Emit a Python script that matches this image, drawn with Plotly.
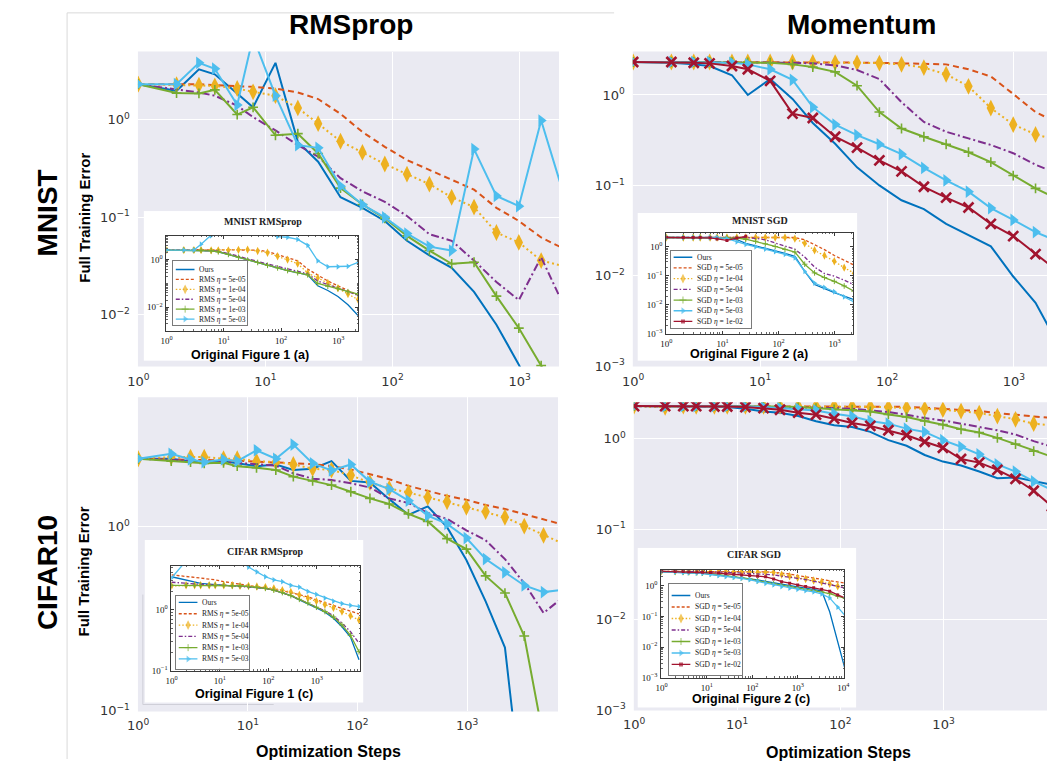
import plotly.graph_objects as go

FIG_W, FIG_H = 1053, 766

# optimisation steps (shared x grid)
steps = [1, 2, 3, 4, 6, 8, 12, 18, 26, 39, 58, 87, 130, 195, 292, 438, 657, 986,
         1478, 2217, 3326, 4988, 7482, 11223]

series_keys = ["ours", "5e5", "1e4", "5e4", "1e3", "5e3", "1e2"]
rms_labels = ["Ours", "RMS <i>η</i> = 5e-05", "RMS <i>η</i> = 1e-04", "RMS <i>η</i> = 5e-04",
              "RMS <i>η</i> = 1e-03", "RMS <i>η</i> = 5e-03"]
sgd_labels = ["Ours", "SGD <i>η</i> = 5e-05", "SGD <i>η</i> = 1e-04", "SGD <i>η</i> = 5e-04",
              "SGD <i>η</i> = 1e-03", "SGD <i>η</i> = 5e-03", "SGD <i>η</i> = 1e-02"]

# ---------- values, as log10(full training error) ----------
# MNIST RMSprop (main)
mnist_rms_ours = [0.365, 0.297, 0.517, 0.466, 0.27, 0.128, 0.584, -0.226, -0.429, -0.794, -0.902, -1.037, -1.24, -1.39, -1.517, -1.764, -2.10, -2.51, -3.0, -3.4]
mnist_rms_5e5 = [0.365, 0.365, 0.365, 0.355, 0.348, 0.338, 0.321, 0.28, 0.213, 0.061, -0.125, -0.277, -0.412, -0.514, -0.615, -0.716, -0.902, -1.037, -1.206, -1.32]
mnist_rms_1e4 = [0.365, 0.36, 0.355, 0.348, 0.321, 0.287, 0.247, 0.122, -0.04, -0.22, -0.334, -0.453, -0.557, -0.659, -0.794, -0.895, -1.155, -1.257, -1.443, -1.50]
mnist_rms_5e4 = [0.365, 0.314, 0.28, 0.247, 0.145, 0.027, -0.108, -0.26, -0.378, -0.598, -0.733, -0.841, -0.986, -1.172, -1.24, -1.443, -1.662, -1.848, -1.409, -1.90]
mnist_rms_1e3 = [0.365, 0.274, 0.270, 0.307, 0.054, 0.128, -0.159, -0.142, -0.345, -0.70, -0.868, -1.01, -1.19, -1.34, -1.476, -1.46, -1.807, -2.135, -2.52, -2.9]
mnist_rms_5e3 = [0.365, 0.365, 0.584, 0.524, 0.152, 0.85, 0.247, -0.26, -0.287, -0.68, -0.87, -1.00, -1.166, -1.30, -1.34, -0.30, -0.78, -0.885, -0.007, -0.76]

# MNIST Momentum (main)
mnist_sgd_ours = [0.364, 0.357, 0.338, 0.32, 0.218, 0.0, 0.175, -0.044, -0.31, -0.54, -0.80, -1.0, -1.164, -1.262, -1.425, -1.553, -1.673, -2.007, -2.298, -2.75]
mnist_sgd_5e5 = [0.364, 0.364, 0.364, 0.364, 0.364, 0.364, 0.364, 0.364, 0.362, 0.36, 0.358, 0.355, 0.352, 0.349, 0.338, 0.284, 0.204, 0.011, -0.189, -0.31]
mnist_sgd_1e4 = [0.364, 0.364, 0.364, 0.364, 0.364, 0.364, 0.364, 0.362, 0.36, 0.358, 0.355, 0.352, 0.338, 0.302, 0.229, 0.095, -0.145, -0.327, -0.436, -0.5]
mnist_sgd_5e4 = [0.364, 0.364, 0.364, 0.364, 0.362, 0.36, 0.358, 0.355, 0.35, 0.327, 0.276, 0.175, -0.08, -0.298, -0.407, -0.48, -0.553, -0.644, -0.771, -0.87]
mnist_sgd_1e3 = [0.364, 0.364, 0.364, 0.364, 0.362, 0.36, 0.356, 0.338, 0.309, 0.255, 0.102, -0.189, -0.371, -0.462, -0.545, -0.633, -0.742, -0.891, -1.033, -1.15]
mnist_sgd_5e3 = [0.364, 0.364, 0.364, 0.364, 0.356, 0.338, 0.284, 0.167, -0.135, -0.327, -0.444, -0.545, -0.655, -0.807, -0.945, -1.069, -1.251, -1.382, -1.516, -1.62]
mnist_sgd_1e2 = [0.364, 0.364, 0.356, 0.349, 0.32, 0.284, 0.156, -0.207, -0.255, -0.462, -0.582, -0.724, -0.844, -1.015, -1.135, -1.244, -1.425, -1.56, -1.76, -1.95]

# CIFAR10 RMSprop (main)
cifar_rms_ours = [0.367, 0.367, 0.354, 0.349, 0.354, 0.342, 0.327, 0.336, 0.306, 0.313, 0.354, 0.247, 0.238, 0.148, 0.063, 0.109, -0.004, -0.182, -0.406, -0.657, -1.7, -2.5, -3.0]
cifar_rms_5e5 = [0.367, 0.365, 0.363, 0.36, 0.358, 0.356, 0.352, 0.349, 0.345, 0.338, 0.327, 0.309, 0.283, 0.256, 0.22, 0.193, 0.166, 0.145, 0.116, 0.095, 0.068, 0.038, 0.01]
cifar_rms_1e4 = [0.367, 0.376, 0.376, 0.376, 0.367, 0.367, 0.354, 0.349, 0.336, 0.313, 0.306, 0.277, 0.238, 0.206, 0.184, 0.157, 0.134, 0.104, 0.08, 0.05, 0.002, -0.048, -0.093]
cifar_rms_5e4 = [0.367, 0.362, 0.358, 0.354, 0.35, 0.345, 0.34, 0.33, 0.288, 0.259, 0.252, 0.234, 0.211, 0.152, 0.127, 0.073, 0.041, -0.021, -0.075, -0.177, -0.308, -0.469, -0.385]
cifar_rms_1e3 = [0.367, 0.354, 0.349, 0.342, 0.345, 0.327, 0.318, 0.306, 0.27, 0.247, 0.224, 0.188, 0.152, 0.122, 0.068, 0.027, -0.066, -0.123, -0.268, -0.361, -0.594, -1.15, -1.7]
cifar_rms_5e3 = [0.367, 0.394, 0.363, 0.349, 0.363, 0.354, 0.413, 0.367, 0.444, 0.342, 0.304, 0.336, 0.242, 0.202, 0.14, 0.059, 0.014, -0.063, -0.177, -0.249, -0.320, -0.356, -0.343]

# CIFAR10 Momentum (main)
cifar_sgd_ours = [0.358, 0.358, 0.358, 0.358, 0.354, 0.347, 0.328, 0.299, 0.285, 0.248, 0.19, 0.146, 0.128, 0.073, -0.018, -0.08, -0.182, -0.255, -0.299, -0.365, -0.438, -0.43, -0.474, -0.51]
cifar_sgd_5e5 = [0.358, 0.358, 0.358, 0.358, 0.358, 0.358, 0.358, 0.358, 0.358, 0.358, 0.358, 0.356, 0.356, 0.354, 0.352, 0.35, 0.34, 0.328, 0.318, 0.303, 0.281, 0.263, 0.237, 0.226]
cifar_sgd_1e4 = [0.358, 0.345, 0.358, 0.355, 0.355, 0.355, 0.355, 0.355, 0.355, 0.355, 0.355, 0.355, 0.352, 0.35, 0.345, 0.34, 0.328, 0.318, 0.303, 0.281, 0.248, 0.212, 0.164, 0.146]
cifar_sgd_5e4 = [0.358, 0.358, 0.358, 0.358, 0.356, 0.354, 0.352, 0.35, 0.348, 0.346, 0.345, 0.336, 0.328, 0.31, 0.292, 0.263, 0.226, 0.2, 0.164, 0.128, 0.091, 0.044, -0.029, -0.09]
cifar_sgd_1e3 = [0.358, 0.358, 0.358, 0.358, 0.358, 0.358, 0.358, 0.358, 0.354, 0.347, 0.336, 0.321, 0.318, 0.299, 0.266, 0.237, 0.193, 0.153, 0.102, 0.066, 0.007, -0.062, -0.139, -0.2]
cifar_sgd_5e3 = [0.358, 0.358, 0.358, 0.358, 0.358, 0.356, 0.354, 0.347, 0.336, 0.328, 0.31, 0.274, 0.245, 0.193, 0.164, 0.109, 0.073, -0.018, -0.091, -0.175, -0.285, -0.365, -0.474, -0.566]
cifar_sgd_1e2 = [0.358, 0.358, 0.358, 0.358, 0.354, 0.354, 0.347, 0.336, 0.318, 0.285, 0.263, 0.219, 0.172, 0.139, 0.091, 0.036, -0.036, -0.102, -0.226, -0.266, -0.347, -0.445, -0.577, -0.748]

# inset: original Figure 1 (a)  MNIST RMSprop
in_mnist_rms_ours = [0.40, 0.40, 0.40, 0.40, 0.37, 0.33, 0.22, 0.10, -0.02, -0.12, -0.24, -0.35, -0.46, -0.55, -0.64, -1.10, -1.30, -1.55, -1.90, -2.35]
in_mnist_rms_5e5 = [0.42, 0.42, 0.42, 0.42, 0.42, 0.42, 0.42, 0.42, 0.42, 0.40, 0.34, 0.22, 0.10, -0.05, -0.40, -0.65, -0.90, -1.10, -1.30, -1.50]
in_mnist_rms_1e4 = [0.40, 0.40, 0.40, 0.40, 0.39, 0.39, 0.39, 0.41, 0.42, 0.36, 0.29, 0.14, 0.0, -0.17, -0.56, -0.77, -0.98, -1.20, -1.45, -1.68]
in_mnist_rms_5e4 = [0.40, 0.40, 0.40, 0.40, 0.38, 0.35, 0.26, 0.15, 0.03, -0.08, -0.19, -0.30, -0.41, -0.50, -0.60, -0.90, -1.05, -1.20, -1.35, -1.50]
in_mnist_rms_1e3 = [0.40, 0.40, 0.40, 0.40, 0.37, 0.33, 0.22, 0.10, -0.02, -0.12, -0.24, -0.35, -0.46, -0.55, -0.64, -1.00, -1.12, -1.22, -1.35, -1.45]
in_mnist_rms_5e3 = [0.40, 0.40, 0.40, 0.65, 1.0, 1.3, 1.3, 1.3, 1.3, 1.3, 1.1, 0.97, 0.94, 0.85, 0.60, -0.05, -0.30, -0.30, -0.28, -0.12]

# inset: original Figure 2 (a)  MNIST SGD
in_mnist_sgd_ours = [0.32, 0.32, 0.32, 0.32, 0.32, 0.32, 0.31, 0.25, 0.12, 0.03, -0.05, -0.14, -0.23, -0.33, -0.85, -1.30, -1.45, -1.58, -1.70, -1.82]
in_mnist_sgd_5e5 = [0.32, 0.32, 0.32, 0.32, 0.32, 0.32, 0.32, 0.32, 0.32, 0.32, 0.32, 0.32, 0.32, 0.32, 0.24, 0.08, -0.10, -0.30, -0.47, -0.63]
in_mnist_sgd_1e4 = [0.32, 0.32, 0.32, 0.32, 0.32, 0.32, 0.32, 0.32, 0.32, 0.32, 0.32, 0.32, 0.32, 0.28, 0.12, -0.12, -0.30, -0.50, -0.72, -0.91]
in_mnist_sgd_5e4 = [0.32, 0.32, 0.32, 0.32, 0.32, 0.32, 0.32, 0.32, 0.32, 0.29, 0.24, 0.13, 0.03, -0.08, -0.35, -0.70, -0.92, -1.01, -1.15, -1.31]
in_mnist_sgd_1e3 = [0.32, 0.32, 0.32, 0.32, 0.32, 0.32, 0.32, 0.30, 0.26, 0.19, 0.10, 0.01, -0.09, -0.18, -0.60, -0.90, -1.06, -1.19, -1.35, -1.53]
in_mnist_sgd_5e3 = [0.32, 0.32, 0.32, 0.32, 0.32, 0.32, 0.28, 0.17, 0.08, 0.0, -0.08, -0.17, -0.26, -0.38, -0.85, -1.25, -1.40, -1.55, -1.73, -1.90]
in_mnist_sgd_1e2 = [0.32, 0.32, 0.32, 0.32, 0.31, 0.27, 0.22, 0.30, 0.36]

# inset: original Figure 1 (c)  CIFAR RMSprop
in_cifar_rms_ours = [0.54, 0.48, 0.45, 0.43, 0.42, 0.41, 0.40, 0.39, 0.39, 0.38, 0.37, 0.35, 0.32, 0.28, 0.23, 0.16, 0.10, 0.03, -0.04, -0.14, -0.28, -0.45, -0.82]
in_cifar_rms_5e5 = [0.57, 0.55, 0.53, 0.52, 0.50, 0.49, 0.46, 0.44, 0.42, 0.40, 0.38, 0.36, 0.33, 0.31, 0.28, 0.25, 0.21, 0.16, 0.12, 0.07, 0.02, -0.03, -0.07]
in_cifar_rms_1e4 = [0.39, 0.40, 0.40, 0.40, 0.40, 0.40, 0.40, 0.40, 0.39, 0.39, 0.38, 0.37, 0.35, 0.32, 0.29, 0.24, 0.19, 0.14, 0.08, 0.03, -0.03, -0.10, -0.17]
in_cifar_rms_5e4 = [0.45, 0.43, 0.42, 0.41, 0.41, 0.40, 0.40, 0.39, 0.39, 0.38, 0.37, 0.35, 0.32, 0.28, 0.23, 0.17, 0.11, 0.05, -0.02, -0.10, -0.22, -0.36, -0.55]
in_cifar_rms_1e3 = [0.40, 0.40, 0.40, 0.40, 0.40, 0.40, 0.40, 0.39, 0.39, 0.38, 0.37, 0.35, 0.32, 0.28, 0.23, 0.17, 0.11, 0.04, -0.03, -0.12, -0.25, -0.42, -0.69]
in_cifar_rms_5e3 = [0.52, 0.80, 0.85, 0.85, 0.85, 0.85, 0.85, 0.85, 0.80, 0.70, 0.62, 0.54, 0.49, 0.46, 0.40, 0.37, 0.30, 0.25, 0.19, 0.14, 0.10, 0.07, 0.05]

# inset: original Figure 2 (c)  CIFAR SGD
in_cifar_sgd_ours = [0.45, 0.44, 0.43, 0.42, 0.41, 0.40, 0.37, 0.34, 0.31, 0.28, 0.26, 0.24, 0.19, 0.14, 0.09, 0.04, 0.0, -0.04, -0.08, -0.12, -0.17, -0.85, -1.80, -2.80]
in_cifar_sgd_5e5 = [0.47, 0.47, 0.47, 0.47, 0.47, 0.47, 0.47, 0.47, 0.47, 0.47, 0.47, 0.46, 0.46, 0.45, 0.44, 0.42, 0.38, 0.33, 0.29, 0.25, 0.20, 0.15, 0.11, 0.08]
in_cifar_sgd_1e4 = [0.47, 0.47, 0.47, 0.47, 0.47, 0.47, 0.46, 0.46, 0.46, 0.45, 0.45, 0.45, 0.44, 0.44, 0.43, 0.36, 0.31, 0.26, 0.22, 0.17, 0.12, 0.06, -0.02, -0.08]
in_cifar_sgd_5e4 = [0.47, 0.47, 0.47, 0.46, 0.46, 0.46, 0.45, 0.45, 0.44, 0.43, 0.42, 0.41, 0.39, 0.37, 0.35, 0.32, 0.28, 0.24, 0.20, 0.15, 0.10, 0.05, -0.02, -0.08]
in_cifar_sgd_1e3 = [0.46, 0.45, 0.44, 0.43, 0.42, 0.41, 0.39, 0.36, 0.33, 0.29, 0.26, 0.22, 0.16, 0.11, 0.06, 0.01, -0.04, -0.08, -0.12, -0.16, -0.20, -0.26, -0.34, -0.42]
in_cifar_sgd_5e3 = [0.45, 0.44, 0.43, 0.42, 0.41, 0.40, 0.37, 0.33, 0.30, 0.27, 0.24, 0.20, 0.14, 0.08, 0.03, -0.03, -0.08, -0.12, -0.16, -0.20, -0.27, -0.40, -0.70, -1.0]
in_cifar_sgd_1e2 = [0.47, 0.46, 0.46, 0.45, 0.45, 0.44, 0.43, 0.41, 0.39, 0.37, 0.35, 0.33, 0.31, 0.29, 0.22, 0.13, 0.08, 0.02, -0.03, -0.07, -0.12, -0.18, -0.30, -0.41]

# ---------- styles ----------
COLORS = {"ours": "#0072BD", "5e5": "#D95319", "1e4": "#EDB120", "5e4": "#7E2F8E",
          "1e3": "#77AC30", "5e3": "#4DBEEE", "1e2": "#A2142F"}
MAIN_DASH = {"ours": "solid", "5e5": "6px,4px", "1e4": "2px,3px", "5e4": "8px,3px,2px,3px",
             "1e3": "solid", "5e3": "solid", "1e2": "solid"}
MAIN_MARK = {"1e4": ("diamond-tall", 12, 0), "1e3": ("cross-thin", 7, 1.6),
             "5e3": ("triangle-right", 11, 0), "1e2": ("x-thin", 10, 2.6)}
IN_DASH = {"ours": "solid", "5e5": "3px,2px", "1e4": "1.5px,2px", "5e4": "4px,2px,1.5px,2px",
           "1e3": "solid", "5e3": "solid", "1e2": "solid"}
IN_MARK = {"1e4": ("diamond-tall", 6, 0), "1e3": ("cross-thin", 4, 1),
           "5e3": ("triangle-right", 5, 0), "1e2": ("square", 3, 0)}


def xd(a, b):
    return [a / FIG_W, b / FIG_W]


def yd(top, bot):
    return [1 - bot / FIG_H, 1 - top / FIG_H]


def sup(e):
    return "10<sup>" + str(e).replace("-", "\u2212") + "</sup>"


def ax_names(i):
    return ("xaxis" if i == 1 else f"xaxis{i}", "yaxis" if i == 1 else f"yaxis{i}",
            "x" if i == 1 else f"x{i}", "y" if i == 1 else f"y{i}")


fig = go.Figure()
layout_axes = {}
shapes = []
annotations = []


def set_axes(i, xdom, ydom, xcfg, ycfg):
    xs, ys, xa, ya = ax_names(i)
    layout_axes[xs] = dict(domain=xdom, anchor=ya, **xcfg)
    layout_axes[ys] = dict(domain=ydom, anchor=xa, **ycfg)


def main_axis(rng, exps, standoff):
    return dict(type="log", range=rng, tickmode="array", tickvals=[10.0 ** e for e in exps],
                ticktext=[sup(e) for e in exps], showgrid=True, gridcolor="white", gridwidth=1.3,
                zeroline=False, showline=False, ticks="",
                tickfont=dict(family="DejaVu Sans", size=13, color="#333333"),
                ticklabelstandoff=standoff, fixedrange=True)


def inset_axis(rng, exps):
    return dict(type="log", range=rng, tickmode="array", tickvals=[10.0 ** e for e in exps],
                ticktext=[sup(e) for e in exps], showgrid=False, zeroline=False,
                showline=True, linecolor="#3a3a3a", linewidth=1, mirror="allticks",
                ticks="inside", ticklen=3, tickcolor="#3a3a3a", tickwidth=0.8,
                minor=dict(ticks="inside", ticklen=1.5, tickcolor="#666666", dtick="D1", showgrid=False),
                tickfont=dict(family="Liberation Serif", size=9, color="#111111"),
                ticklabelstandoff=1, fixedrange=True)


def plain_axis(rng, border):
    d = dict(range=rng, showgrid=False, zeroline=False, showticklabels=False, ticks="",
             fixedrange=True)
    if border:
        d.update(showline=True, mirror=True, linecolor="#7a7a7a", linewidth=0.8)
    else:
        d.update(showline=False)
    return d


# panel definitions: pixel boxes & ranges
main_panels = [
    dict(x=(129, 557), y=(52, 370), xr=[-0.003, 3.31], yr=[-2.53, 0.70], xt=[0, 1, 2, 3], yt=[-2, -1, 0],
         data=[mnist_rms_ours, mnist_rms_5e5, mnist_rms_1e4, mnist_rms_5e4, mnist_rms_1e3, mnist_rms_5e3]),
    dict(x=(632, 1053), y=(52, 370), xr=[-0.003, 3.26], yr=[-3.003, 0.48], xt=[0, 1, 2, 3], yt=[-3, -2, -1, 0],
         data=[mnist_sgd_ours, mnist_sgd_5e5, mnist_sgd_1e4, mnist_sgd_5e4, mnist_sgd_1e3, mnist_sgd_5e3, mnist_sgd_1e2]),
    dict(x=(129, 556), y=(401, 718), xr=[-0.003, 3.83], yr=[-1.003, 0.70], xt=[0, 1, 2, 3], yt=[-1, 0],
         data=[cifar_rms_ours, cifar_rms_5e5, cifar_rms_1e4, cifar_rms_5e4, cifar_rms_1e3, cifar_rms_5e3]),
    dict(x=(633, 1053), y=(406, 717), xr=[-0.003, 4.003], yr=[-3.003, 0.40], xt=[0, 1, 2, 3, 4], yt=[-3, -2, -1, 0],
         data=[cifar_sgd_ours, cifar_sgd_5e5, cifar_sgd_1e4, cifar_sgd_5e4, cifar_sgd_1e3, cifar_sgd_5e3, cifar_sgd_1e2]),
]
boxes = [(135, 357, 213, 364), (637, 860, 215, 364), (136, 358, 545, 709), (637, 859, 553, 714)]
insets = [
    dict(x=(158, 353), y=(238, 334), xr=[-0.003, 3.35], yr=[-3, 1], xt=[0, 1, 2, 3], yt=[-2, 0],
         data=[in_mnist_rms_ours, in_mnist_rms_5e5, in_mnist_rms_1e4, in_mnist_rms_5e4, in_mnist_rms_1e3, in_mnist_rms_5e3]),
    dict(x=(666, 856), y=(235, 337), xr=[-0.003, 3.33], yr=[-3.003, 0.48], xt=[0, 1, 2, 3], yt=[-3, -2, -1, 0],
         data=[in_mnist_sgd_ours, in_mnist_sgd_5e5, in_mnist_sgd_1e4, in_mnist_sgd_5e4, in_mnist_sgd_1e3, in_mnist_sgd_5e3, in_mnist_sgd_1e2]),
    dict(x=(163, 355), y=(571, 677), xr=[-0.003, 3.9], yr=[-1.003, 0.72], xt=[0, 1, 2, 3], yt=[-1, 0],
         data=[in_cifar_rms_ours, in_cifar_rms_5e5, in_cifar_rms_1e4, in_cifar_rms_5e4, in_cifar_rms_1e3, in_cifar_rms_5e3]),
    dict(x=(661, 847), y=(575, 684), xr=[-0.003, 4.02], yr=[-3.003, 0.52], xt=[0, 1, 2, 3, 4], yt=[-3, -2, -1, 0],
         data=[in_cifar_sgd_ours, in_cifar_sgd_5e5, in_cifar_sgd_1e4, in_cifar_sgd_5e4, in_cifar_sgd_1e3, in_cifar_sgd_5e3, in_cifar_sgd_1e2]),
]
legends = [
    dict(box=(165, 240, 263, 328), first=9, gap=10.0, labels=rms_labels),
    dict(box=(671, 752, 253, 331), first=6.6, gap=10.8, labels=sgd_labels),
    dict(box=(168, 242, 601, 675), first=7, gap=11.4, labels=rms_labels),
    dict(box=(669, 743, 589, 681), first=12, gap=11.6, labels=sgd_labels),
]
inset_titles = [("MNIST RMSprop", 256, 224), ("MNIST SGD", 761, 223),
                ("CIFAR RMSprop", 258, 557), ("CIFAR SGD", 755, 560)]
captions = [("Original Figure 1 (a)", 243, 358), ("Original Figure 2 (a)", 750, 357),
            ("Original Figure 1 (c)", 247, 700), ("Original Figure 2 (c)", 752, 705)]

# ---------- main panels ----------
for p_i, p in enumerate(main_panels):
    idx = p_i + 1
    set_axes(idx, xd(*p["x"]), yd(*p["y"]), main_axis(p["xr"], p["xt"], 5), main_axis(p["yr"], p["yt"], 7))
    shapes.append(dict(type="rect", xref="paper", yref="paper", x0=p["x"][0] / FIG_W, x1=p["x"][1] / FIG_W,
                       y0=1 - p["y"][1] / FIG_H, y1=1 - p["y"][0] / FIG_H, fillcolor="#EAEAF2",
                       line=dict(width=0), layer="below"))
    _, _, xa, ya = ax_names(idx)
    for key, vals in zip(series_keys, p["data"]):
        mode = "lines+markers" if key in MAIN_MARK else "lines"
        marker = {}
        if key in MAIN_MARK:
            sym, sz, lw = MAIN_MARK[key]
            marker = dict(symbol=sym, size=sz, color=COLORS[key], line=dict(color=COLORS[key], width=lw))
        fig.add_trace(go.Scatter(x=steps[:len(vals)], y=[10.0 ** v for v in vals], mode=mode,
                                 line=dict(color=COLORS[key], width=2, dash=MAIN_DASH[key]),
                                 marker=marker, xaxis=xa, yaxis=ya, showlegend=False, hoverinfo="skip"))

# ---------- white inset boxes ----------
for b_i, (x0, x1, y0, y1) in enumerate(boxes):
    idx = 5 + b_i
    set_axes(idx, xd(x0, x1), yd(y0, y1), plain_axis([0, 1], False), plain_axis([0, 1], False))
    _, _, xa, ya = ax_names(idx)
    fig.add_trace(go.Scatter(x=[None], y=[None], xaxis=xa, yaxis=ya, showlegend=False, hoverinfo="skip"))

# ---------- inset plots ----------
for n_i, p in enumerate(insets):
    idx = 9 + n_i
    set_axes(idx, xd(*p["x"]), yd(*p["y"]), inset_axis(p["xr"], p["xt"]), inset_axis(p["yr"], p["yt"]))
    _, _, xa, ya = ax_names(idx)
    for key, vals in zip(series_keys, p["data"]):
        mode = "lines+markers" if key in IN_MARK else "lines"
        marker = {}
        if key in IN_MARK:
            sym, sz, lw = IN_MARK[key]
            marker = dict(symbol=sym, size=sz, color=COLORS[key], line=dict(color=COLORS[key], width=lw))
        fig.add_trace(go.Scatter(x=steps[:len(vals)], y=[10.0 ** v for v in vals], mode=mode,
                                 line=dict(color=COLORS[key], width=1.3, dash=IN_DASH[key]),
                                 marker=marker, xaxis=xa, yaxis=ya, showlegend=False, hoverinfo="skip"))

# ---------- inset legends (drawn on their own small axes) ----------
for l_i, lg in enumerate(legends):
    idx = 13 + l_i
    x0, x1, y0, y1 = lg["box"]
    w, h = x1 - x0, y1 - y0
    set_axes(idx, xd(x0, x1), yd(y0, y1), plain_axis([0, w], True), plain_axis([h, 0], True))
    _, _, xa, ya = ax_names(idx)
    for k, (key, label) in enumerate(zip(series_keys, lg["labels"])):
        yy = lg["first"] + k * lg["gap"]
        mode = "lines+markers" if key in IN_MARK else "lines"
        marker = {}
        if key in IN_MARK:
            sym, sz, lw = IN_MARK[key]
            marker = dict(symbol=sym, size=[0, sz + 1, 0], color=COLORS[key],
                          line=dict(color=COLORS[key], width=lw))
        fig.add_trace(go.Scatter(x=[2.5, 12, 21.5], y=[yy, yy, yy], mode=mode,
                                 line=dict(color=COLORS[key], width=1.3, dash=IN_DASH[key]),
                                 marker=marker, xaxis=xa, yaxis=ya, showlegend=False, hoverinfo="skip"))
        annotations.append(dict(text=label, x=24, y=yy, xref=xa, yref=ya, xanchor="left", yanchor="middle",
                                showarrow=False, font=dict(family="Liberation Serif", size=7.5, color="#222222")))

# ---------- texts ----------
def paper_text(text, px, py, size, family="Liberation Sans", angle=0, color="#000000"):
    annotations.append(dict(text=text, x=px / FIG_W, y=1 - py / FIG_H, xref="paper", yref="paper",
                            xanchor="center", yanchor="middle", showarrow=False, textangle=angle,
                            font=dict(family=family, size=size, color=color)))


paper_text("<b>RMSprop</b>", 346, 25, 28)
paper_text("<b>Momentum</b>", 864, 25, 28)
paper_text("<b>MNIST</b>", 37, 215, 28, angle=-90)
paper_text("<b>CIFAR10</b>", 37, 578, 28, angle=-90)
paper_text("<b>Full Training Error</b>", 75, 220, 15, angle=-90)
paper_text("<b>Full Training Error</b>", 74, 577, 15, angle=-90)
paper_text("<b>Optimization Steps</b>", 323, 758, 16)
paper_text("<b>Optimization Steps</b>", 841, 759, 16)
for t, px, py in inset_titles:
    paper_text("<b>" + t + "</b>", px, py, 10, family="Liberation Serif", color="#222222")
for t, px, py in captions:
    paper_text("<b>" + t + "</b>", px, py, 12.5)

# thin frame lines of the source figure
shapes.append(dict(type="line", xref="paper", yref="paper", x0=57 / FIG_W, x1=57 / FIG_W,
                   y0=0, y1=1 - 13 / FIG_H, line=dict(color="#d9d9d9", width=1), layer="below"))
shapes.append(dict(type="line", xref="paper", yref="paper", x0=57 / FIG_W, x1=613 / FIG_W,
                   y0=1 - 13 / FIG_H, y1=1 - 13 / FIG_H, line=dict(color="#d9d9d9", width=1), layer="below"))
shapes.append(dict(type="path", xref="paper", yref="paper",
                   path=f"M {134 / FIG_W} {1 - 600 / FIG_H} L {134 / FIG_W} {1 - 711 / FIG_H} L {267 / FIG_W} {1 - 711 / FIG_H}",
                   line=dict(color="#cfcfd8", width=1), layer="below"))

fig.update_layout(width=FIG_W, height=FIG_H, margin=dict(l=0, r=0, t=0, b=0),
                  paper_bgcolor="white", plot_bgcolor="white", showlegend=False,
                  shapes=shapes, annotations=annotations, **layout_axes)

fig.write_html("out.html", include_plotlyjs=True, config={"displayModeBar": False},
               post_script="document.body.style.margin='0px';document.body.style.overflow='hidden';")
